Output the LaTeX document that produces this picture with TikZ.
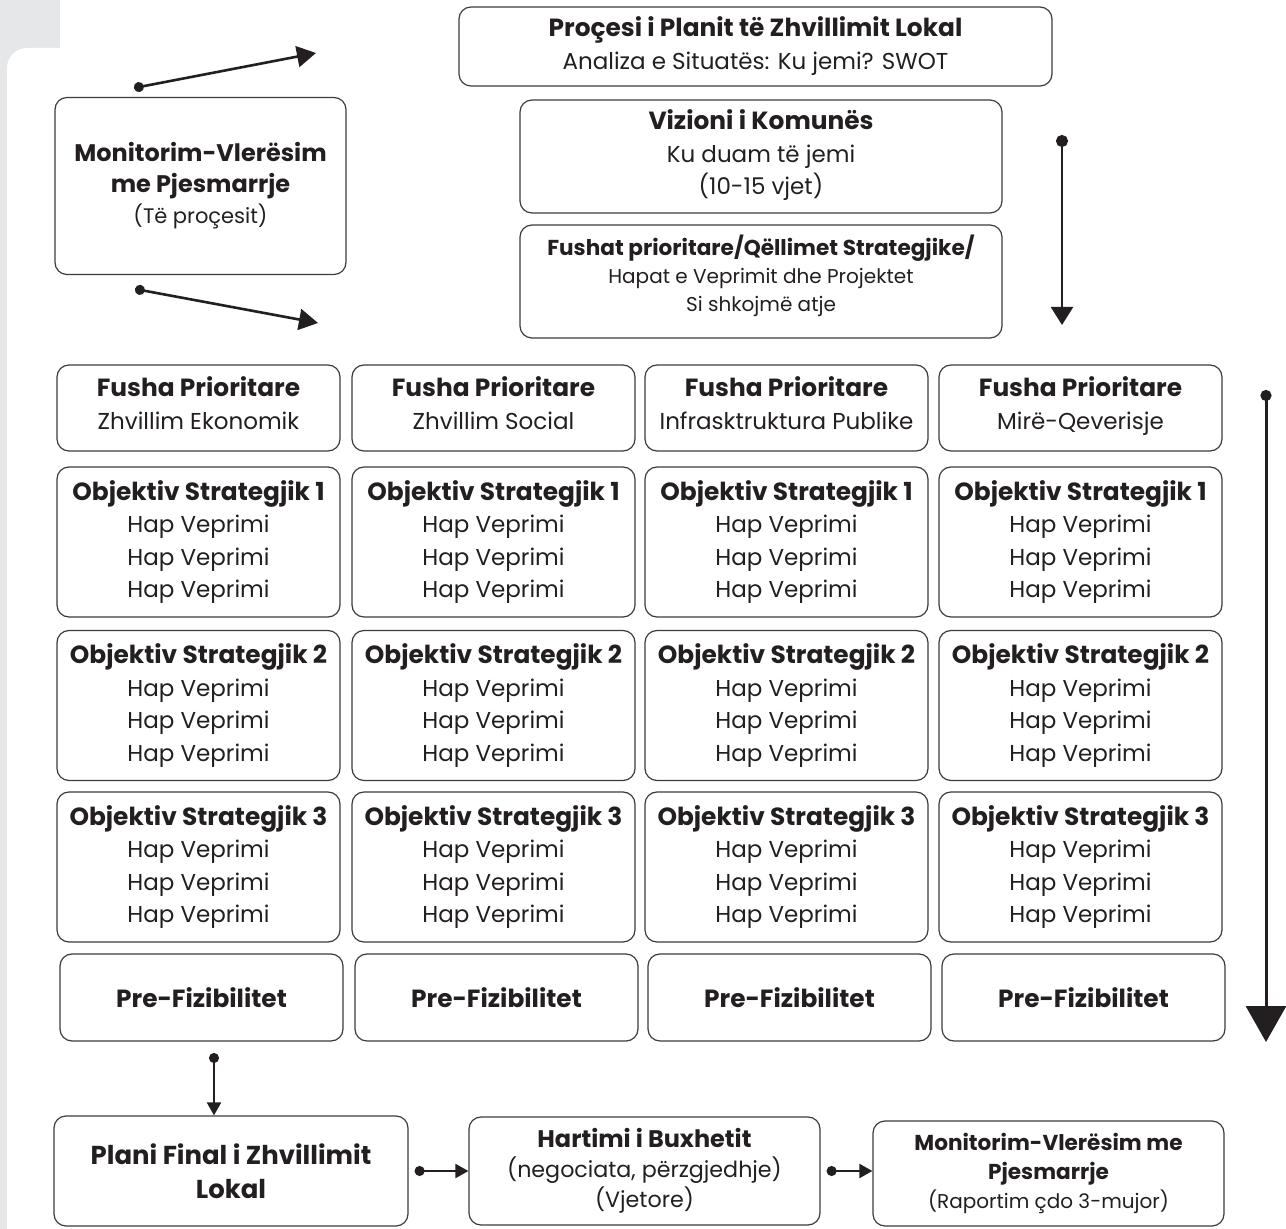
\documentclass[tikz,border=0pt]{standalone}
\usepackage{fontspec}
\setmainfont{Poppins}[BoldFeatures={Scale=1.08}]
\usetikzlibrary{arrows.meta}
\definecolor{bggray}{HTML}{E6E7E8}
\definecolor{ink}{HTML}{231F20}
\definecolor{edge}{HTML}{3C3C3C}

\begin{document}
\begin{tikzpicture}[x=0.5pt,y=-0.5pt,
    blok/.style={draw=edge,line width=0.6pt,rounded corners=6pt,fill=white,text=ink,align=center,
        inner sep=0pt,minimum width=141.5pt,font=\fontsize{11.5}{16.3}\selectfont},
    link/.style={draw=ink,line width=1.3pt,{Circle[length=5pt]}-{Triangle[length=9.5pt,width=10.5pt]}}]
    % page with the grey margin
    \useasboundingbox (0,0) rectangle (1286,1229);
    \clip (0,0) rectangle (1286,1229);
    \fill[white] (0,0) rectangle (1286,1229);
    \fill[bggray] (0,0) rectangle (60,90);
    \fill[bggray] (0,0) rectangle (7,1229);
    \fill[white,rounded corners=10pt] (7,48) rectangle (1330,1290);

    % process, vision, goals
    \node[blok,minimum width=296.5pt,minimum height=39.5pt,font=\fontsize{11.5}{16.5}\selectfont] (proc) at (755.5,46.5)
        {\textbf{Proçesi i Planit të Zhvillimit Lokal}\\Analiza e Situatës: Ku jemi? SWOT};
    \node[blok,minimum width=241pt,minimum height=56.5pt] (viz) at (761,156.5)
        {\textbf{Vizioni i Komunës}\\Ku duam të jemi\\(10-15 vjet)\\[-12pt]};
    \node[blok,minimum width=241pt,minimum height=56.5pt,font=\fontsize{10}{14}\selectfont] (fush) at (761,281.5)
        {\textbf{Fushat prioritare/Qëllimet Strategjike/}\\Hapat e Veprimit dhe Projektet\\Si shkojmë atje\\[-6pt]};
    \node[blok,minimum width=145.5pt,minimum height=88.5pt,font=\fontsize{11.1}{15.5}\selectfont] (mon) at (200.5,186)
        {\textbf{Monitorim-Vlerësim}\\\textbf{me Pjesmarrje}\\{\fontsize{10.5}{15}\selectfont(Të proçesit)}};

    % loop of the monitoring
    \coordinate (m1) at (134,88);
    \coordinate (m2) at (316,53);
    \draw[link] (m1) -- (m2);
    \coordinate (m3) at (135,289);
    \coordinate (m4) at (318,323);
    \draw[link] (m3) -- (m4);
    \coordinate (v1) at (1062,135);
    \coordinate (v2) at (1062,325);
    \draw[link,line width=1.2pt,{Circle[length=6pt]}-{Triangle[length=9pt,width=11pt]}] (v1) -- (v2);

    % priority areas, objectives and pre-feasibility
    \foreach \n/\x/\area in {1/198.5/Zhvillim Ekonomik,2/493.5/Zhvillim Social,
        3/786.5/Infrasktruktura Publike,4/1080.5/Mirë-Qeverisje} {
        \node[blok,minimum height=43pt] (fp\n) at (\x,408) {\textbf{Fusha Prioritare}\\\strut\area};
        \foreach \k/\y in {1/542,2/705.5,3/867}
            \node[blok,minimum height=75pt] (os\n-\k) at (\x,\y)
                {\textbf{Objektiv Strategjik \k}\\Hap Veprimi\\Hap Veprimi\\Hap Veprimi};
        \node[blok,minimum height=43.5pt] (pf\n) at (\x+3,997.5) {\textbf{Pre-Fizibilitet}};
    }
    \coordinate (r1) at (1266,390);
    \coordinate (r2) at (1266,1042);
    \draw[link,line width=1.5pt,{Circle[length=5.5pt]}-{Triangle[length=18pt,width=20pt]}] (r1) -- (r2);

    % final plan, budget, reporting
    \node[blok,minimum width=177pt,minimum height=55pt,font=\fontsize{12}{17}\selectfont] (plani) at (231,1171)
        {\textbf{Plani Final i Zhvillimit}\\\textbf{Lokal}};
    \node[blok,minimum width=175.5pt,minimum height=54pt,font=\fontsize{11.1}{15}\selectfont] (hart) at (644.5,1171)
        {\textbf{Hartimi i Buxhetit}\\(negociata, përzgjedhje)\\(Vjetore)};
    \node[blok,minimum width=175.5pt,minimum height=52.5pt,font=\fontsize{10}{14.5}\selectfont] (monb) at (1048.5,1173.5)
        {\textbf{Monitorim-Vlerësim me}\\\textbf{Pjesmarrje}\\(Raportim çdo 3-mujor)};

    \coordinate (p1) at (214,1053);
    \draw[link,line width=1pt,{Circle[length=5pt]}-{Triangle[length=6.5pt,width=7pt]}] (p1) -- (p1 |- plani.north);
    \draw[link,line width=1pt,{Circle[length=5pt]}-{Triangle[length=6.5pt,width=7pt]}] ([xshift=3pt]plani.east) -- (hart.west);
    \draw[link,line width=1pt,{Circle[length=5pt]}-{Triangle[length=6.5pt,width=7pt]}] ([xshift=3pt]hart.east) -- (hart.east -| monb.west);
\end{tikzpicture}
\end{document}
